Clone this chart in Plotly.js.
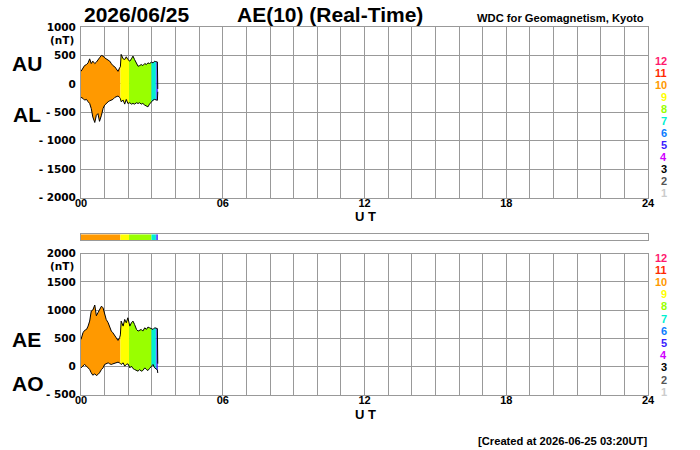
<!DOCTYPE html>
<html>
<head>
<meta charset="utf-8">
<script src="https://cdn.plot.ly/plotly-3.0.1.min.js"></script>
<style>html,body{margin:0;padding:0;background:#fff;}#chart{width:700px;height:450px;}</style>
</head>
<body>
<div id="chart"></div>
<script>
// ---- data (minutes since 00:00 UT) ----
const minutes = [0,5,9,14,18,22,26,30,35,39,43,47,52,56,60,64,69,73,77,81,86,90,94,98,100,102,107,111,115,119,122,124,128,132,136,141,145,149,153,157,162,166,170,174,179,183,187,190,192,194,195];
const au = [220,280,321,339,369,440,357,399,357,381,428,458,500,488,458,440,428,399,357,321,298,262,220,280,300,518,440,428,476,428,410,399,440,488,428,357,309,321,339,321,357,339,369,357,381,369,399,390,381,385,-90];
const al = [-238,-256,-286,-274,-315,-345,-434,-583,-680,-553,-524,-660,-553,-434,-375,-345,-315,-298,-286,-274,-238,-226,-214,-238,-260,-315,-286,-357,-274,-345,-340,-333,-357,-345,-357,-333,-345,-333,-357,-345,-375,-393,-405,-357,-315,-286,-274,-280,-286,-290,-140];
const ae = [480,598,640,657,716,805,983,1000,1090,900,953,1012,1070,1040,930,835,775,687,628,598,539,509,462,509,560,805,716,835,775,864,760,716,775,805,746,657,628,640,657,628,687,657,699,687,675,657,687,680,675,672,50];
const ao = [-24,6,36,6,-24,-53,-112,-154,-130,-160,-142,-112,-53,-24,36,47,65,47,36,47,59,71,77,65,50,36,65,6,36,47,10,-24,6,-36,-53,-71,-83,-53,-83,-71,-24,-53,-71,-36,6,36,-24,-40,-53,-60,-115];
const stations = [10,10,10,10,10,10,10,10,10,10,10,10,10,10,10,10,10,10,10,10,10,10,10,10,9,9,9,9,9,9,8,8,8,8,8,8,8,8,8,8,8,8,8,8,7,7,7,6,5,5,5];

const stationLabels = ['12','11','10','9','8','7','6','5','4','3','2','1'];
const stationColors = {12:'#ff1a6e',11:'#ff2a00',10:'#ff9900',9:'#ffff00',8:'#99ff00',7:'#00f0d0',6:'#0a7cff',5:'#3a1cff',4:'#d000ff',3:'#000000',2:'#555555',1:'#cccccc'};

const hourLabels = {0:'00',6:'06',12:'12',18:'18',24:'24'};
const topTickVals = [1000,500,0,-500,-1000,-1500,-2000];
const topTickText = ['1000','500','0','- 500','- 1000','- 1500','- 2000'];
const botTickVals = [2000,1500,1000,500,0,-500];
const botTickText = ['2000','1500','1000','500','0','- 500'];

// ---- build ----
function segments(){
  const segs=[]; let s=0;
  for(let i=1;i<=stations.length;i++){
    if(i===stations.length || stations[i]!==stations[s]){
      segs.push({n:stations[s], a:s, b:Math.min(i, stations.length-1)});
      s=i;
    }
  }
  return segs;
}
const segs = segments();
const traces = [];
function panel(lo, hi, xa, ya){
  segs.forEach(sg=>{
    const xs = minutes.slice(sg.a, sg.b+1);
    traces.push({x:xs, y:lo.slice(sg.a, sg.b+1), xaxis:xa, yaxis:ya, mode:'lines', line:{width:0, color:stationColors[sg.n]}, hoverinfo:'skip'});
    traces.push({x:xs, y:hi.slice(sg.a, sg.b+1), xaxis:xa, yaxis:ya, mode:'lines', line:{width:0, color:stationColors[sg.n]}, fill:'tonexty', fillcolor:stationColors[sg.n], hoverinfo:'skip'});
  });
  traces.push({x:minutes, y:hi, xaxis:xa, yaxis:ya, mode:'lines', line:{color:'#000', width:1}});
  traces.push({x:minutes, y:lo, xaxis:xa, yaxis:ya, mode:'lines', line:{color:'#000', width:1}});
}
panel(al, au, 'x', 'y');
panel(ao, ae, 'x2', 'y2');
segs.forEach(sg=>{
  const xs = minutes.slice(sg.a, sg.b+1);
  traces.push({x:xs, y:xs.map(()=>1), xaxis:'x3', yaxis:'y3', mode:'lines', line:{width:0}, fill:'tozeroy', fillcolor:stationColors[sg.n], hoverinfo:'skip'});
});

const hourVals=[], hourText=[];
for(let h=0;h<=24;h++){ hourVals.push(h*60); hourText.push(hourLabels[h]!==undefined?hourLabels[h]:''); }

const xdom=[81/700, 648/700];
const GRID='#999999';
function xax(anchor){
  return {domain:xdom, range:[0,1440], anchor:anchor, tickmode:'array', tickvals:hourVals, ticktext:hourText,
    showgrid:true, gridcolor:GRID, gridwidth:1, zeroline:false, showline:true, mirror:true, linecolor:GRID, linewidth:1,
    ticks:'', ticklabelstandoff:-5, tickfont:{family:'Liberation Sans, Arial, sans-serif', size:11, weight:'bold', color:'#000'}, fixedrange:true};
}
function yax(anchor, dom, rng, tv, tt){
  return {domain:dom, range:rng, anchor:anchor, tickmode:'array', tickvals:tv, ticktext:tt,
    showgrid:true, gridcolor:GRID, gridwidth:1, zeroline:false, showline:true, mirror:true, linecolor:GRID, linewidth:1,
    ticks:'', ticklabelstandoff:2, tickfont:{family:'DejaVu Sans, sans-serif', size:10.5, weight:'bold', color:'#000'}, fixedrange:true};
}
const FB = 'Liberation Sans, Arial, sans-serif';
function py(p){ return 1 - p/450; }
function px(p){ return p/700; }
const ann = [
  {text:'2026/06/25', x:px(82), y:py(15), xanchor:'left', yanchor:'middle', font:{size:21}},
  {text:'AE(10) (Real-Time)', x:px(235), y:py(15), xanchor:'left', yanchor:'middle', font:{size:21}},
  {text:'WDC for Geomagnetism, Kyoto', x:px(646), y:py(18), xanchor:'right', yanchor:'middle', font:{size:11.2}},
  {text:'(nT)', x:px(76), y:py(40), xanchor:'right', yanchor:'middle', font:{family:'DejaVu Sans, sans-serif', size:10.5}},
  {text:'(nT)', x:px(76), y:py(266), xanchor:'right', yanchor:'middle', font:{family:'DejaVu Sans, sans-serif', size:10.5}},
  {text:'AU', x:px(10), y:py(63), xanchor:'left', yanchor:'middle', font:{size:21}},
  {text:'AL', x:px(11), y:py(115), xanchor:'left', yanchor:'middle', font:{size:21}},
  {text:'AE', x:px(10), y:py(339), xanchor:'left', yanchor:'middle', font:{size:21}},
  {text:'AO', x:px(10), y:py(383), xanchor:'left', yanchor:'middle', font:{size:21}},
  {text:'U T', x:px(365), y:py(216), xanchor:'center', yanchor:'middle', font:{size:13}},
  {text:'U T', x:px(365), y:py(414), xanchor:'center', yanchor:'middle', font:{size:13}},
  {text:'[Created at 2026-06-25 03:20UT]', x:px(649), y:py(441), xanchor:'right', yanchor:'middle', font:{size:11.2}}
];
stationLabels.forEach((lab,i)=>{
  ann.push({text:lab, x:px(669), y:py(61+12*i), xanchor:'right', yanchor:'middle', font:{size:11, color:stationColors[+lab]}});
  ann.push({text:lab, x:px(669), y:py(257.5+12.2*i), xanchor:'right', yanchor:'middle', font:{size:11, color:stationColors[+lab]}});
});
ann.forEach(a=>{ a.xref='paper'; a.yref='paper'; a.showarrow=false; a.font=Object.assign({family:FB, weight:'bold', color:'#000'}, a.font); });

const layout = {
  width:700, height:450, margin:{l:0,r:0,t:0,b:0}, paper_bgcolor:'#fff', plot_bgcolor:'#fff', showlegend:false,
  font:{family:FB, weight:'bold', color:'#000'},
  xaxis: xax('y'),
  yaxis: yax('x', [py(197.5), py(27)], [-2000,1000], topTickVals, topTickText),
  xaxis2: xax('y2'),
  yaxis2: yax('x2', [py(394.7), py(253.7)], [-500,2000], botTickVals, botTickText),
  xaxis3: {domain:xdom, range:[0,1440], anchor:'y3', showgrid:false, zeroline:false, showticklabels:false, ticks:'', showline:true, mirror:true, linecolor:GRID, linewidth:1, fixedrange:true},
  yaxis3: {domain:[py(240.3), py(234.3)], range:[0,1], anchor:'x3', showgrid:false, zeroline:false, showticklabels:false, ticks:'', showline:true, mirror:true, linecolor:GRID, linewidth:1, fixedrange:true},
  annotations: ann
};
Plotly.newPlot('chart', traces, layout, {staticPlot:true, displayModeBar:false});
</script>
</body>
</html>
